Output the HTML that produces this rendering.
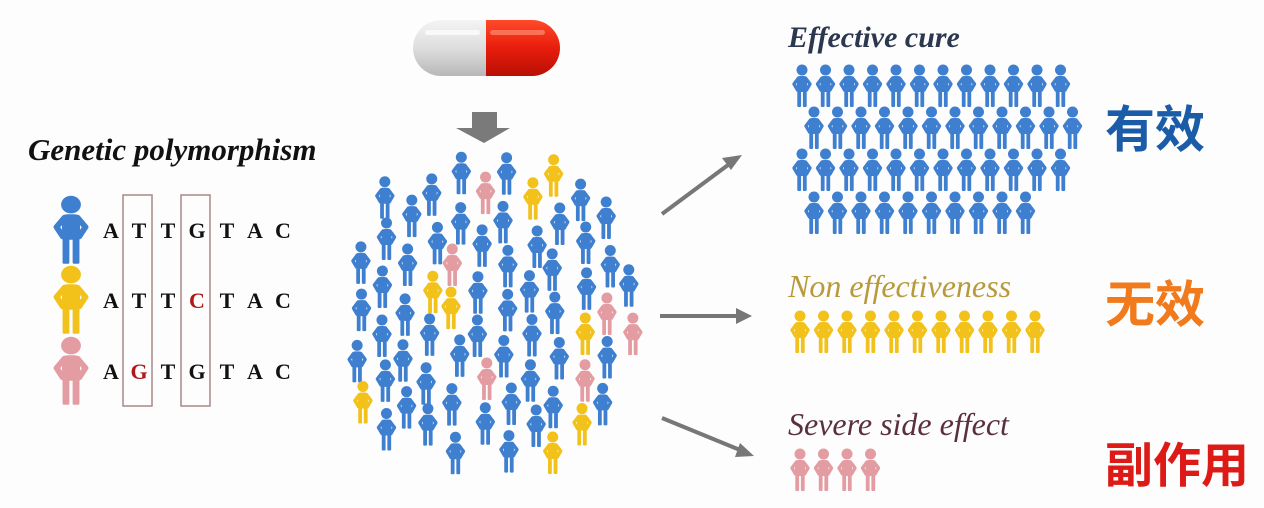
<!DOCTYPE html>
<html><head><meta charset="utf-8"><style>
html,body{margin:0;padding:0;background:#fdfdfd;}
svg{display:block}
</style></head><body>
<svg id="s" width="1264" height="508" viewBox="0 0 1264 508" xmlns="http://www.w3.org/2000/svg">
<defs>
<g id="p">
<circle cx="10" cy="6" r="5.5"/>
<rect x="5" y="12" width="10" height="16" rx="3"/>
<path d="M6.5,14 L2,20 L5.5,26 M13.5,14 L18,20 L14.5,26" fill="none" stroke-width="3.4" stroke-linejoin="round" stroke-linecap="round" stroke="currentColor"/>
<rect x="5.3" y="26" width="3.8" height="17" rx="1"/>
<rect x="10.9" y="26" width="3.8" height="17" rx="1"/>
</g>
<linearGradient id="gw" x1="0" y1="0" x2="0" y2="1"><stop offset="0" stop-color="#f4f4f4"/><stop offset="0.5" stop-color="#dedede"/><stop offset="1" stop-color="#b8b8b8"/></linearGradient>
<linearGradient id="gr" x1="0" y1="0" x2="0" y2="1"><stop offset="0" stop-color="#ff4a2a"/><stop offset="0.5" stop-color="#e81d0c"/><stop offset="1" stop-color="#b81005"/></linearGradient>
</defs>
<rect width="1264" height="508" fill="#fdfdfd"/>
<path d="M441,20 H486 V76 H441 A28,28 0 0 1 441,20 Z" fill="url(#gw)"/>
<path d="M486,20 H532 A28,28 0 0 1 532,76 H486 Z" fill="url(#gr)"/>
<rect x="425" y="30" width="55" height="5" rx="2.5" fill="#fff" opacity="0.7"/>
<rect x="490" y="30" width="55" height="5" rx="2.5" fill="#ff9a80" opacity="0.6"/>
<path d="M472,112 H497 V128 H510 L484,143 L456,128 H472 Z" fill="#7a7a7a"/>
<g stroke="#777" stroke-width="4" fill="#777">
<line x1="662" y1="214" x2="728" y2="165"/>
<line x1="660" y1="316" x2="738" y2="316"/>
<line x1="662" y1="418" x2="740" y2="450"/>
</g>
<g fill="#777">
<path d="M742,155 L722,158 L731,170 Z"/>
<path d="M752,316 L736,308 L736,324 Z"/>
<path d="M754,456 L740,443 L735,457 Z"/>
</g>
<text x="28" y="160" font-family="Liberation Serif, serif" font-style="italic" font-weight="bold" font-size="31" fill="#111">Genetic polymorphism</text>
<rect x="123" y="195" width="29" height="211" fill="none" stroke="#a88" stroke-width="1.5"/>
<rect x="181" y="195" width="29" height="211" fill="none" stroke="#a88" stroke-width="1.5"/>
<g font-family="Liberation Serif, serif" font-weight="bold" font-size="22" fill="#111" text-anchor="middle">
<text y="238"><tspan x="111">A</tspan><tspan x="139">T</tspan><tspan x="168">T</tspan><tspan x="197">G</tspan><tspan x="227">T</tspan><tspan x="255">A</tspan><tspan x="283">C</tspan></text>
<text y="308"><tspan x="111">A</tspan><tspan x="139">T</tspan><tspan x="168">T</tspan><tspan x="197" fill="#b01818">C</tspan><tspan x="227">T</tspan><tspan x="255">A</tspan><tspan x="283">C</tspan></text>
<text y="379"><tspan x="111">A</tspan><tspan x="139" fill="#b01818">G</tspan><tspan x="168">T</tspan><tspan x="197">G</tspan><tspan x="227">T</tspan><tspan x="255">A</tspan><tspan x="283">C</tspan></text>
</g>
<use href="#p" transform="translate(53,195) scale(1.8,1.6)" fill="#3f7fd0" color="#3f7fd0"/>
<use href="#p" transform="translate(53,265) scale(1.8,1.6)" fill="#f2c21b" color="#f2c21b"/>
<use href="#p" transform="translate(53,336) scale(1.8,1.6)" fill="#e39ca2" color="#e39ca2"/>
<g font-family="Liberation Serif, serif" font-style="italic" font-size="32">
<text x="788" y="47" fill="#2c3850" font-weight="bold" font-size="30">Effective cure</text>
<text x="788" y="297" fill="#b89a3a">Non effectiveness</text>
<text x="788" y="435" fill="#5a3040">Severe side effect</text>
</g>
<g font-family="Liberation Sans, 'Noto Sans CJK SC', sans-serif" font-weight="bold">
<text x="1105" y="147" fill="#1b5ca8" font-size="50">有效</text>
<text x="1105" y="322" fill="#f07a1c" font-size="50">无效</text>
<text x="1105" y="482" fill="#dd1a16" font-size="48">副作用</text>
</g>
<g id="right"></g>
<g id="crowd"></g>
</svg>
<script>
var NS="http://www.w3.org/2000/svg";
function person(g,x,y,c,s){var u=document.createElementNS(NS,"use");u.setAttribute("href","#p");u.setAttribute("transform","translate("+x+","+y+") scale("+(s||1)+")");u.setAttribute("fill",c);u.setAttribute("color",c);g.appendChild(u);}
var R=document.getElementById("right"),B="#3f7fd0",Y="#f2c21b",P="#e39ca2";
var rows=[[792,64,12],[804,106,12],[792,148,12],[804,191,10]];
rows.forEach(function(r){for(var i=0;i<r[2];i++)person(R,r[0]+i*23.5,r[1],B);});
for(var i=0;i<11;i++)person(R,790+i*23.5,310,Y);
for(var i=0;i<4;i++)person(R,790+i*23.5,448,P);
var C=document.getElementById("crowd");
var seed=11;function rnd(){seed=(seed*16807)%2147483647;return seed/2147483647;}
var k=0;
for(var y=152;y<440;y+=23){k++;for(var x=322;x<650;x+=50){
 var xx=x+(k%2)*25+(rnd()-0.5)*12, yy=y+(rnd()-0.5)*8;
 var dx=(xx+10-487)/152, dy=(yy+22-312)/158;
 if(dx*dx+dy*dy>1)continue;
 var r=rnd(),c=r<0.15?Y:(r<0.21?P:B);
 person(C,xx,yy,c,1);
}}
</script>
</body></html>
